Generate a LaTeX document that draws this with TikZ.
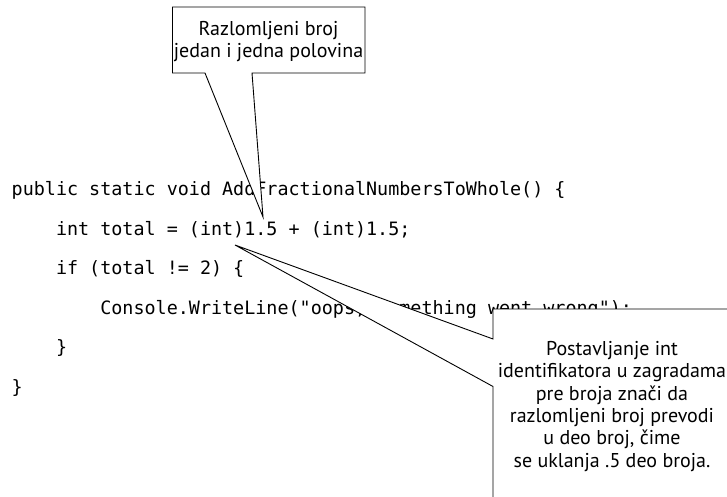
\documentclass[tikz,border=0pt]{standalone}
\usepackage{fontspec}
\setmonofont{DejaVu Sans Mono}
\newfontfamily\calloutfont{PT Sans}
\tikzset{
  codeline/.style={anchor=base west, inner sep=0pt, font=\ttfamily\fontsize{18.4}{20}\selectfont},
  callout/.style={draw=black, line width=0.9pt, fill=white, line join=miter},
  callouttext/.style={anchor=base, inner sep=0pt, align=center, font=\calloutfont\fontsize{20}{22.3}\selectfont}
}
\begin{document}
\begin{tikzpicture}[x=1pt,y=-1pt]
\useasboundingbox (0,0) rectangle (727,497);

% the C# method
\node[codeline] (l1) at (11.5,195)   {public static void AddFractionalNumbersToWhole() \{};
\node[codeline] (l2) at (11.5,235)   {\ \ \ \ int total = (int)1.5 + (int)1.5;};
\node[codeline] (l3) at (11.5,274.5) {\ \ \ \ if (total != 2) \{};
\node[codeline] (l4) at (11.5,314)   {\ \ \ \ \ \ \ \ Console.WriteLine("oops, something went wrong");};
\node[codeline] (l5) at (11.5,353.5) {\ \ \ \ \}};
\node[codeline] (l6) at (11.5,393)   {\}};

% points the callouts aim at
\coordinate (tipA) at (263,217);
\coordinate (tipB) at (235,245);

% callout on the literal 1.5
\draw[callout] (172.5,7) -- (365,7) -- (365,73) -- (252,73) -- (tipA)
  -- (205,73) -- (172.5,73) -- cycle;
\node[callouttext] (noteA) at (268.5,57.5) {Razlomljeni broj\\jedan i jedna polovina};

% callout on the (int) cast
\draw[callout] (493,339) -- (tipB) -- (493,386.5) -- (493,510)
  -- (740,510) -- (740,309) -- (493,309) -- cycle;
\node[callouttext] (noteB) at (612,467) {Postavljanje int\\identifikatora u zagradama\\pre broja znači da\\razlomljeni broj prevodi\\u deo broj, čime\\se uklanja .5 deo broja.};
\end{tikzpicture}
\end{document}
